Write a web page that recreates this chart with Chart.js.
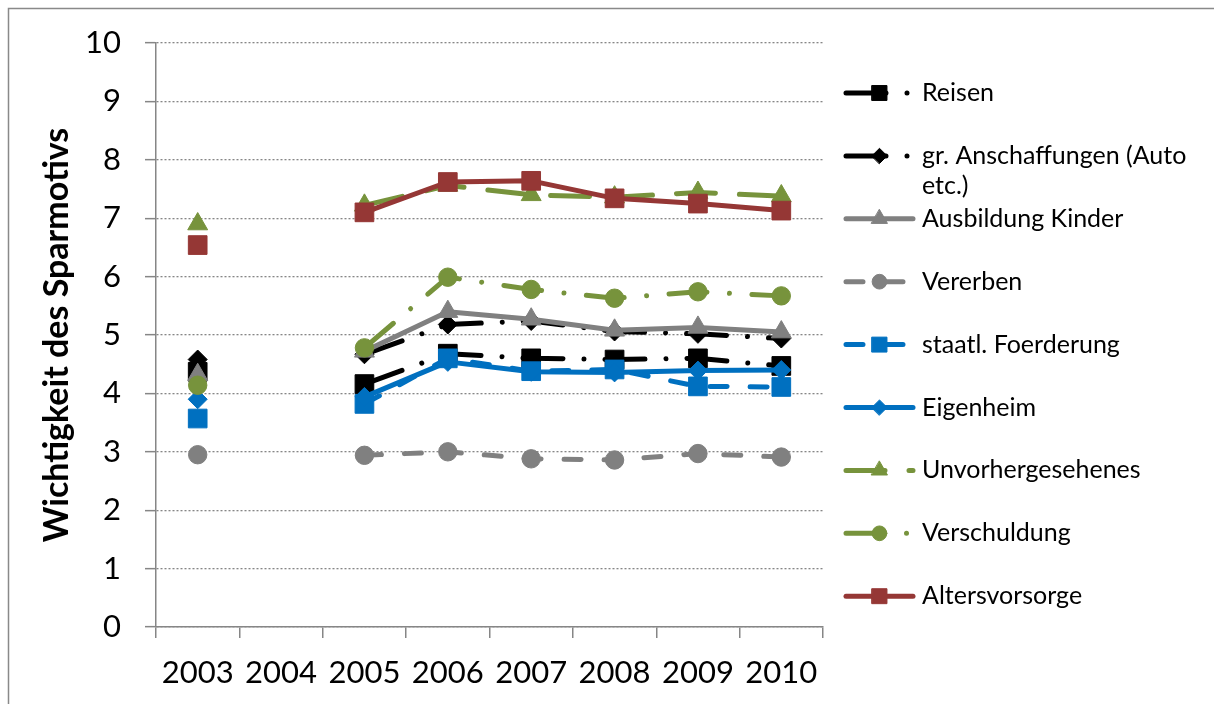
<!DOCTYPE html>
<html>
<head>
<meta charset="utf-8">
<script src="https://cdn.jsdelivr.net/npm/chart.js@4.4.1/dist/chart.umd.min.js"></script>
<style>
html,body{margin:0;padding:0;background:#fff;}
canvas{display:block;}
</style>
</head>
<body>
<canvas id="c" width="1214" height="704"></canvas>
<script>
const years = ['2003','2004','2005','2006','2007','2008','2009','2010'];
const yTicks = [0,1,2,3,4,5,6,7,8,9,10];
const yTitle = 'Wichtigkeit des Sparmotivs';

const seriesNames = ['Reisen','gr. Anschaffungen (Auto etc.)','Ausbildung Kinder','Vererben','staatl. Foerderung','Eigenheim','Unvorhergesehenes','Verschuldung','Altersvorsorge'];
const reisen       = [4.37, null, 4.16, 4.68, 4.60, 4.58, 4.60, 4.47];
const grAnsch      = [4.58, null, 4.67, 5.18, 5.24, 5.06, 5.02, 4.94];
const ausbildung   = [4.32, null, 4.72, 5.40, 5.27, 5.08, 5.13, 5.05];
const vererben     = [2.95, null, 2.94, 3.00, 2.88, 2.86, 2.97, 2.91];
const staatl       = [3.57, null, 3.82, 4.60, 4.38, 4.41, 4.12, 4.11];
const eigenheim    = [3.90, null, 3.94, 4.54, 4.37, 4.36, 4.39, 4.40];
const unvorh       = [6.90, null, 7.22, 7.56, 7.40, 7.36, 7.44, 7.38];
const verschuldung = [4.14, null, 4.78, 5.99, 5.78, 5.63, 5.74, 5.67];
const alters       = [6.54, null, 7.10, 7.62, 7.64, 7.34, 7.25, 7.13];

const values = [reisen, grAnsch, ausbildung, vererben, staatl, eigenheim, unvorh, verschuldung, alters];
const styles = [
  {color:'#000000', dash:[40,21,0.01,21], point:'rect', r:13.2},
  {color:'#000000', dash:[40,21,0.01,21], point:'rectRot', r:9.5},
  {color:'#808080', dash:[], point:'triangle', r:11.5},
  {color:'#808080', dash:[17,23], point:'circle', r:9.2},
  {color:'#0070C0', dash:[17,23], point:'rect', r:13.2},
  {color:'#0070C0', dash:[], point:'rectRot', r:9.5},
  {color:'#77933C', dash:[39,24], point:'triangle', r:11.5},
  {color:'#77933C', dash:[38,22.5,0.01,22.5], point:'circle', r:9.2},
  {color:'#953735', dash:[], point:'rect', r:13.2}
];

const datasets = values.map((v, i) => ({
  label: seriesNames[i],
  data: v,
  borderColor: styles[i].color,
  backgroundColor: styles[i].color,
  borderWidth: 5,
  borderDash: styles[i].dash,
  borderCapStyle: 'round',
  borderJoinStyle: 'round',
  pointStyle: styles[i].point,
  pointRadius: styles[i].r,
  pointHoverRadius: styles[i].r,
  pointBorderWidth: 1,
  pointBackgroundColor: styles[i].color,
  pointBorderColor: styles[i].color,
  spanGaps: false,
  tension: 0,
  fill: false,
  order: values.length - 1 - i
}));

const frame = {
  id: 'frame',
  beforeDraw(chart) {
    const ctx = chart.ctx;
    ctx.save();
    ctx.fillStyle = '#ffffff';
    ctx.fillRect(0, 0, chart.width, chart.height);
    ctx.strokeStyle = '#898989';
    ctx.lineWidth = 1.5;
    ctx.strokeRect(8.5, 8.5, chart.width + 50, chart.height + 50);
    ctx.restore();
  }
};

const sideLegend = {
  id: 'sideLegend',
  afterDraw(chart) {
    const ctx = chart.ctx;
    const x0 = 846, x1 = 913, tx = 922, top = 93, step = 62.9, lh = 30;
    const maxW = chart.width - tx - 4;
    ctx.save();
    ctx.font = '25px Lato';
    ctx.textBaseline = 'middle';
    ctx.textAlign = 'left';
    chart.data.datasets.forEach((ds, i) => {
      const y = top + i * step;
      ctx.save();
      ctx.strokeStyle = ds.borderColor;
      ctx.lineWidth = ds.borderWidth;
      ctx.lineCap = 'round';
      ctx.setLineDash(ds.borderDash || []);
      ctx.beginPath();
      ctx.moveTo(x0, y);
      ctx.lineTo(x1, y);
      ctx.stroke();
      ctx.setLineDash([]);
      ctx.fillStyle = ds.pointBackgroundColor;
      ctx.strokeStyle = ds.pointBorderColor;
      ctx.lineWidth = 1;
      Chart.helpers.drawPoint(ctx, {pointStyle: ds.pointStyle, radius: ds.pointRadius * 0.8, borderWidth: 1, rotation: 0}, (x0 + x1) / 2, y);
      ctx.restore();
      const words = ds.label.split(' ');
      const lines = [];
      let cur = '';
      words.forEach(w => {
        const t = cur ? cur + ' ' + w : w;
        if (ctx.measureText(t).width > maxW && cur) { lines.push(cur); cur = w; } else { cur = t; }
      });
      if (cur) lines.push(cur);
      ctx.fillStyle = '#000';
      lines.forEach((l, k) => ctx.fillText(l, tx, y + k * lh));
    });
    ctx.restore();
  }
};

new Chart(document.getElementById('c'), {
  type: 'line',
  data: { labels: years, datasets },
  options: {
    responsive: false,
    animation: false,
    events: [],
    layout: { padding: { left: 8, right: 391, top: 43, bottom: 0 } },
    plugins: { legend: { display: false }, tooltip: { enabled: false } },
    scales: {
      x: {
        type: 'category',
        offset: true,
        grid: { display: true, offset: true, drawOnChartArea: false, drawTicks: true, tickLength: 11, color: '#868686', lineWidth: 1.5 },
        border: { display: true, color: '#868686', width: 1.5 },
        ticks: { font: { family: 'Lato', size: 31 }, color: '#000', padding: 16, maxRotation: 0, autoSkip: false },
        afterFit(s) { s.height = 77; }
      },
      y: {
        min: yTicks[0],
        max: yTicks[yTicks.length - 1],
        afterBuildTicks(s) { s.ticks = yTicks.map(v => ({ value: v })); },
        grid: { display: true, color: '#868686', lineWidth: 1.3, tickLength: 11, tickColor: '#868686', tickWidth: 1.5, tickBorderDash: [] },
        border: { display: true, color: '#868686', width: 1.5, dash: [2, 2] },
        ticks: { font: { family: 'Lato', size: 31 }, color: '#000', padding: 24 },
        title: { display: true, text: yTitle, color: '#000', font: { family: 'Lato', size: 34, weight: 'bold' }, padding: { top: 29, bottom: 0 } },
        afterFit(s) { s.width = 148; }
      }
    }
  },
  plugins: [frame, sideLegend]
});
</script>
</body>
</html>
